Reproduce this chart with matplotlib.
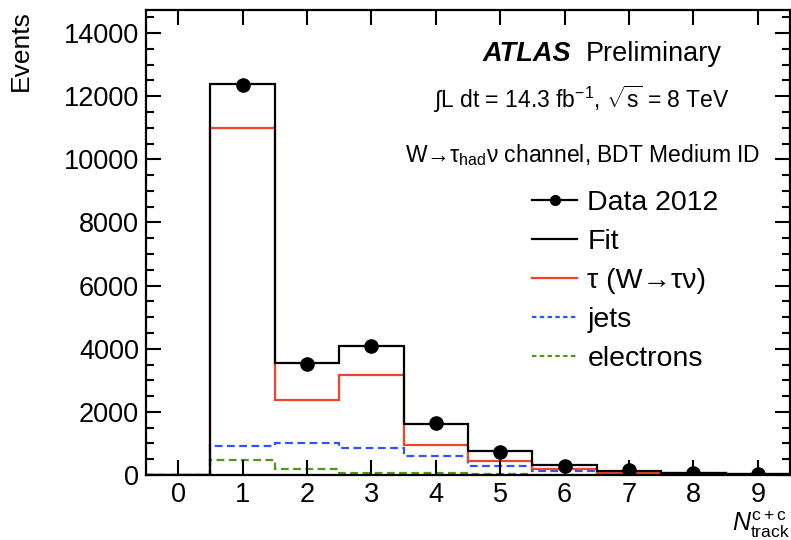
import numpy as np
import matplotlib
matplotlib.use("Agg")
import matplotlib.pyplot as plt
from matplotlib.lines import Line2D

plt.rcParams['font.family'] = ['Liberation Sans', 'DejaVu Sans']
plt.rcParams['mathtext.fontset'] = 'custom'
plt.rcParams['mathtext.rm'] = 'Liberation Sans'
plt.rcParams['mathtext.it'] = 'Liberation Sans:italic'
plt.rcParams['mathtext.bf'] = 'Liberation Sans:bold'

# track multiplicity bins 0..9
ntrack = np.arange(10)
edges = np.arange(-0.5, 10.0, 1.0)

data_2012 = [0, 12350, 3530, 4100, 1650, 740, 300, 150, 70, 40]
tau_wtaunu = [0, 11000, 2375, 3160, 960, 450, 180, 75, 65, 35]
jets = [0, 930, 1000, 860, 600, 300, 125, 40, 5, 5]
electrons = [0, 470, 180, 75, 60, 20, 10, 10, 0, 0]
fit_total = [0, 12400, 3555, 4095, 1620, 770, 315, 125, 70, 40]

red = '#f2422b'
blue = '#2f52ff'
green = '#4f9a12'

fig = plt.figure(figsize=(7.91, 5.40), dpi=100)
ax = fig.add_axes([146 / 791, 65 / 540, 644 / 791, 465 / 540])

ax.stairs(electrons, edges, color=green, lw=1.6, ls=(0, (3.5, 2)), baseline=None)
ax.stairs(jets, edges, color=blue, lw=1.6, ls=(0, (3.5, 2)), baseline=None)
ax.stairs(tau_wtaunu, edges, color=red, lw=1.6, baseline=None)
ax.stairs(fit_total, edges, color='black', lw=1.6, baseline=None)
ax.plot(ntrack[1:], data_2012[1:], 'o', color='black', ms=9.5, zorder=5)

ax.set_xlim(-0.5, 9.5)
ax.set_ylim(0, 14730)
ax.set_xticks(ntrack)
ax.set_yticks(np.arange(0, 14001, 2000))
ax.set_yticks(np.arange(0, 14700, 500), minor=True)
ax.tick_params(which='both', direction='in', top=True, right=True, width=1.5,
               labelsize=19.5, pad=5)
ax.tick_params(which='major', length=11)
ax.tick_params(which='minor', length=6)
ax.tick_params(axis='x', which='minor', top=False, bottom=False)
for sp in ax.spines.values():
    sp.set_linewidth(1.6)

ax.set_ylabel('Events', fontsize=19, loc='top', labelpad=22)
fig.text(790 / 791, 0, r'$N^{\mathrm{c+c}}_{\mathrm{track}}$', fontsize=18,
         ha='right', va='bottom')

fig.text(483 / 791, 1 - 61 / 540, 'ATLAS', fontsize=19.5, fontweight='bold',
         style='italic', ha='left', va='baseline')
fig.text(722 / 791, 1 - 61 / 540, 'Preliminary', fontsize=19.5, ha='right',
         va='baseline')
fig.text(730 / 791, 1 - 108 / 540,
         r'$\int$L dt = 14.3 fb$^{-1}$, $\sqrt{\mathrm{s}}$ = 8 TeV',
         fontsize=16.5, ha='right', va='baseline')
fig.text(760 / 791, 1 - 162 / 540,
         r'W→τ$_{\mathrm{had}}$ν channel, BDT Medium ID',
         fontsize=16.5, ha='right', va='baseline')

handles = [
    Line2D([], [], color='black', lw=1.6, marker='o', ms=7),
    Line2D([], [], color='black', lw=1.6),
    Line2D([], [], color=red, lw=1.6),
    Line2D([], [], color=blue, lw=1.6, ls=(0, (2, 1.5))),
    Line2D([], [], color=green, lw=1.6, ls=(0, (2, 1.5))),
]
labels = ['Data 2012', 'Fit', r'τ (W→τν)', 'jets', 'electrons']
ax.legend(handles, labels, loc='upper left', bbox_to_anchor=(0.599, 0.613),
          frameon=False, fontsize=20.5, handlelength=1.6, handletextpad=0.35,
          labelspacing=0.46, borderpad=0, borderaxespad=0)

fig.savefig('out.png', dpi=100)
